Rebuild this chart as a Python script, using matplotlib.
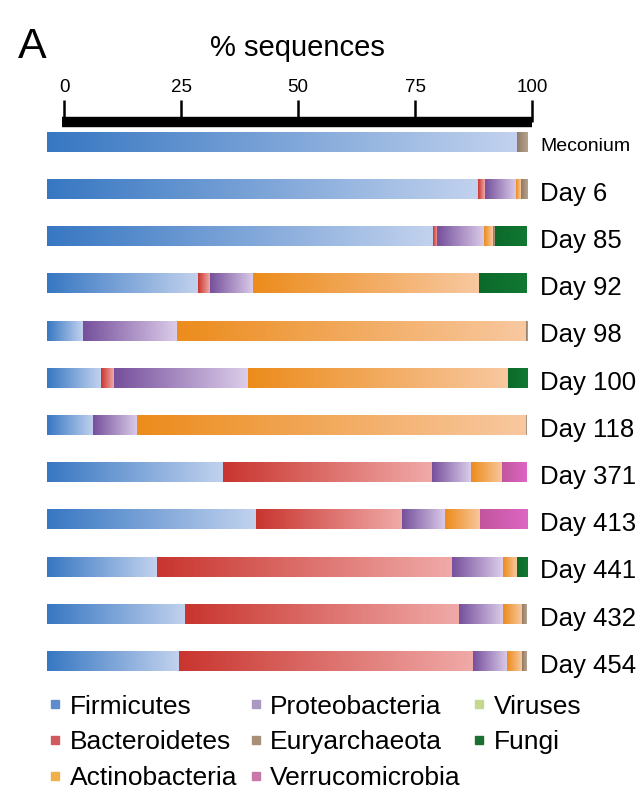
import numpy as np
import matplotlib
matplotlib.use('Agg')
import matplotlib.pyplot as plt
from matplotlib.colors import LinearSegmentedColormap
from matplotlib.lines import Line2D

plt.rcParams['font.family'] = ['Liberation Sans', 'DejaVu Sans']

# %% data (percent of sequences per sample)
samples = ['Meconium', 'Day 6', 'Day 85', 'Day 92', 'Day 98', 'Day 100',
           'Day 118', 'Day 371', 'Day 413', 'Day 441', 'Day 432', 'Day 454']
firmicutes      = [97.9, 89.8, 80.4, 31.5, 7.5, 11.2, 9.6, 36.7, 43.5, 22.9, 28.8, 27.5]
bacteroidetes   = [0.0, 1.4, 0.9, 2.5, 0.0, 2.7, 0.0, 43.5, 30.4, 61.5, 57.1, 61.3]
proteobacteria  = [0.0, 6.5, 9.8, 9.0, 19.6, 27.9, 9.2, 8.1, 9.0, 10.6, 9.2, 7.1]
actinobacteria  = [0.0, 1.0, 1.8, 47.0, 72.6, 54.2, 81.0, 6.5, 7.3, 2.9, 3.9, 3.1]
euryarchaeota   = [2.1, 1.3, 0.5, 0.0, 0.3, 0.0, 0.2, 0.0, 0.0, 0.0, 1.0, 1.0]
verrucomicrobia = [0.0, 0.0, 0.0, 0.0, 0.0, 0.0, 0.0, 5.2, 9.8, 0.0, 0.0, 0.0]
viruses         = [0.0] * 12
fungi           = [0.0, 0.0, 6.6, 10.0, 0.0, 4.0, 0.0, 0.0, 0.0, 2.1, 0.0, 0.0]

phyla = ['Firmicutes', 'Bacteroidetes', 'Proteobacteria', 'Actinobacteria',
         'Euryarchaeota', 'Verrucomicrobia', 'Viruses', 'Fungi']
values = [firmicutes, bacteroidetes, proteobacteria, actinobacteria,
          euryarchaeota, verrucomicrobia, viruses, fungi]
scale_ticks = [0, 25, 50, 75, 100]

# gradient (dark -> light) per phylum, plus legend swatch colour
grad = {'Firmicutes': ('#3777c2', '#c2d2ee'),
        'Bacteroidetes': ('#c9352f', '#f0aaa8'),
        'Proteobacteria': ('#76509c', '#dccdea'),
        'Actinobacteria': ('#ec8c1c', '#f8c8a0'),
        'Euryarchaeota': ('#8e7a66', '#b8a48e'),
        'Verrucomicrobia': ('#c2569c', '#dc66c4'),
        'Viruses': ('#a8c060', '#d0e0a0'),
        'Fungi': ('#0b6a2b', '#127832')}
swatch = {'Firmicutes': '#5f8ccc', 'Bacteroidetes': '#d05a5e',
          'Actinobacteria': '#efb04c', 'Proteobacteria': '#a898c2',
          'Euryarchaeota': '#a88f78', 'Verrucomicrobia': '#c878a8',
          'Viruses': '#c4d890', 'Fungi': '#1a7030'}

W, H = 644, 798
fig = plt.figure(figsize=(W / 100, H / 100), dpi=100)

def px_axes(x0, y0, x1, y1):
    # axes from pixel box (top-left origin)
    return fig.add_axes([x0 / W, 1 - y1 / H, (x1 - x0) / W, (y1 - y0) / H])

# %% bars
n = len(samples)
row_h = (661 - 142) / (n - 1)
ax = px_axes(47, 142 - row_h / 2, 527, 661 + row_h / 2)
bar_h = 0.42
ramp = np.linspace(0, 1, 256).reshape(1, -1)
left = np.zeros(n)
for name, vals in zip(phyla, values):
    vals = np.array(vals)
    cmap = LinearSegmentedColormap.from_list(name, grad[name])
    for i in range(n):
        if vals[i] <= 0:
            continue
        ax.imshow(ramp, cmap=cmap, aspect='auto', interpolation='bilinear',
                  extent=(left[i], left[i] + vals[i], i + bar_h / 2, i - bar_h / 2))
    left = left + vals

ax.set_xlim(0, 100)
ax.set_ylim(n - 0.5, -0.5)
ax.axis('off')

for i, s in enumerate(samples):
    fs = 14 if s == 'Meconium' else 18.5
    ax.text(102.8, i + 0.1, s, fontsize=fs, va='center', ha='left')

# %% scale bar on top (0 -> x=64, 100 -> x=532, black bar from x=62)
sc = px_axes(62, 122, 532, 123)
sc.set_xlim(-0.43, 100)
sc.set_ylim(0, 1)
for side in ['left', 'right', 'bottom']:
    sc.spines[side].set_visible(False)
sc.spines['top'].set_linewidth(7.5)
sc.spines['top'].set_capstyle('butt')
sc.set_yticks([])
sc.xaxis.tick_top()
sc.set_xticks(scale_ticks)
sc.tick_params(axis='x', length=16, width=1.8, pad=3, labelsize=13.5)
sc.set_title('% sequences', fontsize=21, pad=16)

fig.text(18 / W, 1 - 47 / H, 'A', fontsize=31, va='center', ha='left')

# %% legend
order = ['Firmicutes', 'Bacteroidetes', 'Actinobacteria',
         'Proteobacteria', 'Euryarchaeota', 'Verrucomicrobia',
         'Viruses', 'Fungi']
handles = [Line2D([], [], ls='', marker='s', markersize=6,
                  color=swatch[p], label=p) for p in order]
fig.legend(handles=handles, ncol=3, loc='upper left', frameon=False,
           bbox_to_anchor=(38 / W, 1 - 684 / H), fontsize=19,
           handlelength=0.5, handletextpad=0.3, columnspacing=0.45,
           labelspacing=0.45, borderaxespad=0)

fig.savefig('out.png', dpi=100)
